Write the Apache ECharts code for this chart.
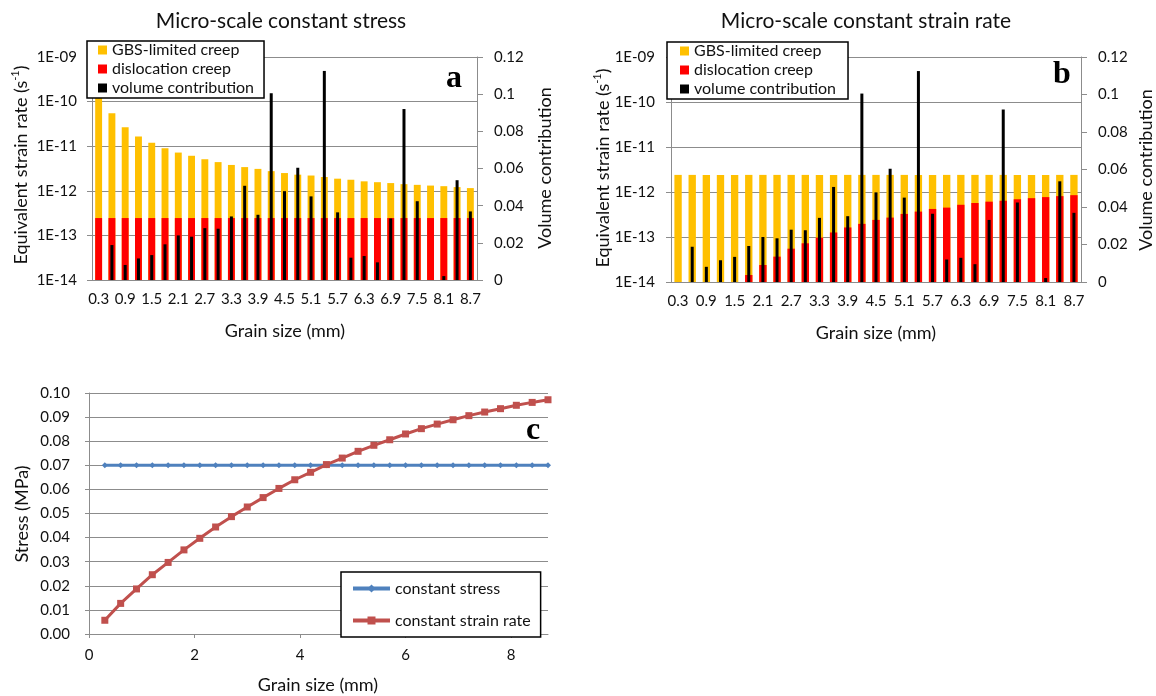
<!DOCTYPE html>
<html><head><meta charset="utf-8">
<script src="https://cdn.jsdelivr.net/npm/echarts@6.0.0/dist/echarts.min.js"></script>
<style>html,body{margin:0;padding:0;background:#fff}#c{width:1156px;height:696px}</style>
</head><body><div id="c"></div>
<script>
// ---- data ----
const grainSizes = [0.3,0.6,0.9,1.2,1.5,1.8,2.1,2.4,2.7,3.0,3.3,3.6,3.9,4.2,4.5,4.8,5.1,5.4,5.7,6.0,6.3,6.6,6.9,7.2,7.5,7.8,8.1,8.4,8.7];
const catLabels = ['0.3','0.6','0.9','1.2','1.5','1.8','2.1','2.4','2.7','3.0','3.3','3.6','3.9','4.2','4.5','4.8','5.1','5.4','5.7','6.0','6.3','6.6','6.9','7.2','7.5','7.8','8.1','8.4','8.7'];

// panel a: micro-scale constant stress (strain rate, s^-1)
const gbsA = [1.2e-10,5.5e-11,2.66e-11,1.66e-11,1.19e-11,9.0e-12,7.2e-12,6.1e-12,5.1e-12,4.4e-12,3.8e-12,3.4e-12,3.1e-12,2.76e-12,2.5e-12,2.3e-12,2.2e-12,2.04e-12,1.87e-12,1.77e-12,1.63e-12,1.56e-12,1.49e-12,1.41e-12,1.36e-12,1.31e-12,1.27e-12,1.21e-12,1.15e-12];
const dislA = [2.45e-13,2.45e-13,2.45e-13,2.45e-13,2.45e-13,2.45e-13,2.45e-13,2.45e-13,2.45e-13,2.45e-13,2.45e-13,2.45e-13,2.45e-13,2.45e-13,2.45e-13,2.45e-13,2.45e-13,2.45e-13,2.45e-13,2.45e-13,2.45e-13,2.45e-13,2.45e-13,2.45e-13,2.45e-13,2.45e-13,2.45e-13,2.45e-13,2.45e-13];

// panel b: micro-scale constant strain rate
const gbsB = [2.4e-12,2.4e-12,2.4e-12,2.4e-12,2.4e-12,2.4e-12,2.4e-12,2.4e-12,2.4e-12,2.4e-12,2.4e-12,2.4e-12,2.4e-12,2.4e-12,2.4e-12,2.4e-12,2.4e-12,2.4e-12,2.4e-12,2.4e-12,2.4e-12,2.4e-12,2.4e-12,2.4e-12,2.4e-12,2.4e-12,2.4e-12,2.4e-12,2.4e-12];
const dislB = [7e-16,1.5e-15,2.8e-15,5e-15,8.5e-15,1.43e-14,2.39e-14,3.66e-14,5.5e-14,7.25e-14,9.7e-14,1.26e-13,1.63e-13,1.96e-13,2.4e-13,2.7e-13,3.26e-13,3.67e-13,4.2e-13,4.5e-13,5.2e-13,5.7e-13,6.1e-13,6.4e-13,6.9e-13,7.3e-13,7.7e-13,8.1e-13,8.5e-13];

// volume contribution (secondary axis, both panels)
const volume = [0,0.0188,0.0081,0.0116,0.0134,0.0192,0.024,0.0233,0.0279,0.0276,0.0342,0.0507,0.0351,0.1005,0.0478,0.0604,0.045,0.1125,0.0364,0.012,0.0129,0.0095,0.0331,0.092,0.0424,0,0.0021,0.0537,0.0369];

// panel c: stress (MPa)
const stressConst = [0.07,0.07,0.07,0.07,0.07,0.07,0.07,0.07,0.07,0.07,0.07,0.07,0.07,0.07,0.07,0.07,0.07,0.07,0.07,0.07,0.07,0.07,0.07,0.07,0.07,0.07,0.07,0.07,0.07];
const stressRate = [0.0057,0.0127,0.0187,0.0246,0.0297,0.0349,0.0397,0.0444,0.0487,0.0527,0.0566,0.0604,0.064,0.0671,0.0703,0.073,0.0758,0.0783,0.0806,0.083,0.0852,0.0871,0.0889,0.0906,0.0921,0.0935,0.0949,0.0961,0.0972];

// ---- styling ----
const FF = 'Lato, "Open Sans", sans-serif';
const TXT = '#111';
const GC = '#8c8c8c';
const YEL = '#FFC000', RED = '#FF0000', BLK = '#000000';
const LOG_MIN = 1e-14, LOG_MAX = 1e-9;

function sciLabel(v){
  const e = Math.round(Math.log10(v));
  return '1E' + (e < 0 ? '-' : '+') + String(Math.abs(e)).padStart(2,'0');
}
const lbl = (m) => ({fontSize:15, fontFamily:FF, color:TXT, margin:m});
const axLine = {show:true, lineStyle:{color:GC, width:1}};

function catAxis(g){
  return {gridIndex:g, type:'category', data:catLabels, boundaryGap:true,
    axisLine:axLine, axisTick:{show:false},
    axisLabel:Object.assign({interval:1}, lbl(12)), splitLine:{show:false}};
}
function hiddenCat(g){
  return {gridIndex:g, type:'category', data:catLabels, show:false};
}
function logAxis(g, m){
  return {gridIndex:g, type:'log', logBase:10, min:LOG_MIN, max:LOG_MAX, position:'left',
    axisLine:axLine, axisTick:{show:true, inside:false, length:5, lineStyle:{color:GC}},
    splitLine:{show:true, lineStyle:{color:GC, width:1}},
    minorTick:{show:false},
    axisLabel:Object.assign({formatter:sciLabel}, lbl(m))};
}
function volAxis(g, m){
  return {gridIndex:g, type:'value', min:0, max:0.12, interval:0.02, position:'right',
    axisLine:axLine, axisTick:{show:true, length:6, lineStyle:{color:GC}},
    splitLine:{show:false}, axisLabel:lbl(m)};
}

const legendCommon = {
  orient:'vertical', icon:'rect', itemWidth:9, itemHeight:9, itemGap:3,
  borderColor:'#000', borderWidth:1.5, backgroundColor:'#fff', z:10,
  selectedMode:false,
  textStyle:{fontSize:16, lineHeight:16, fontFamily:FF, color:TXT},
  data:['GBS-limited creep','dislocation creep','volume contribution']
};

// bars on a log axis, rising from the axis minimum (drawn via the axis scale)
function logBar(name, xi, yi, values, color){
  return {
    name:name, type:'custom', xAxisIndex:xi, yAxisIndex:yi,
    itemStyle:{color:color},
    data: values.map((v,i)=>[i, v]),
    encode:{x:0, y:1},
    renderItem: function(params, api){
      const cat = api.value(0), v = api.value(1);
      const top = api.coord([cat, v]);
      const base = api.coord([cat, LOG_MIN]);
      const bw = api.size([1, 0])[0] * 0.52;
      const rect = echarts.graphic.clipRectByRect(
        {x: top[0] - bw/2, y: top[1], width: bw, height: base[1] - top[1]},
        {x: params.coordSys.x, y: params.coordSys.y, width: params.coordSys.width, height: params.coordSys.height});
      if (!rect || rect.height <= 0) return null;
      return {type:'rect', shape:rect, style:{fill:color}};
    }
  };
}

function barSeries(xi, yi, xh, yh, gbs, disl){
  return [
    logBar('GBS-limited creep', xi, yi, gbs, YEL),
    logBar('dislocation creep', xi, yi, disl, RED),
    {name:'volume contribution', type:'bar', xAxisIndex:xh, yAxisIndex:yh, data:volume,
      barWidth:3, itemStyle:{color:BLK}, z:3}
  ];
}

function title(text, x, y, size){
  return {type:'text', x:x, y:y, z:20, style:{text:text, fontSize:size, fontFamily:FF, fill:TXT, align:'center', verticalAlign:'middle'}};
}
function vTitle(text, x, y, size, rich){
  const st = {text:text, fontSize:size, fontFamily:FF, fill:TXT, align:'center', verticalAlign:'middle'};
  if (rich) st.rich = rich;
  return {type:'text', x:x, y:y, rotation:Math.PI/2, z:20, style:st};
}
function panelLabel(text, x, y){
  return {type:'text', x:x, y:y, z:20, style:{text:text, fontSize:32, fontWeight:'bold', fontFamily:'"Liberation Serif", "DejaVu Serif", serif', fill:'#000', align:'center', verticalAlign:'middle'}};
}
const supRich = {
  n:{fontSize:18, fontFamily:FF, color:TXT, lineHeight:22},
  s:{fontSize:11, fontFamily:FF, color:TXT, lineHeight:22, verticalAlign:'top'}
};
const eqTitle = '{n|Equivalent strain rate (s}{s|-1}{n|)}';

const option = {
  animation:false,
  backgroundColor:'#fff',
  grid:[
    {left:92, top:57, width:385, height:223},
    {left:671, top:57, width:410, height:225},
    {left:89, top:393, width:459, height:241}
  ],
  xAxis:[
    catAxis(0), hiddenCat(0), catAxis(1), hiddenCat(1),
    {gridIndex:2, type:'value', min:0, max:8.7, interval:2,
      axisLine:axLine, axisTick:{show:true, length:4, lineStyle:{color:GC}},
      splitLine:{show:false},
      axisLabel:Object.assign({showMaxLabel:false}, lbl(14))}
  ],
  yAxis:[
    logAxis(0, 15), volAxis(0, 17), logAxis(1, 16), volAxis(1, 17),
    {gridIndex:2, type:'value', min:0, max:0.1, interval:0.01,
      axisLine:axLine, axisTick:{show:true, length:4, lineStyle:{color:GC}},
      splitLine:{show:true, lineStyle:{color:GC, width:1}},
      axisLabel:Object.assign({formatter:(v)=>v.toFixed(2)}, lbl(19))}
  ],
  legend:[
    Object.assign({}, legendCommon, {left:87, top:41, padding:[1,10,2,11]}),
    Object.assign({}, legendCommon, {left:667, top:42, padding:[1,12,2,13]}),
    {left:341, top:572, orient:'vertical', itemWidth:37, itemHeight:10, itemGap:13,
      padding:[7,10,7,10], borderColor:'#000', borderWidth:1.5, backgroundColor:'#fff', z:10,
      selectedMode:false,
      lineStyle:{width:4},
      textStyle:{fontSize:16, lineHeight:19, fontFamily:FF, color:TXT},
      data:['constant stress','constant strain rate']}
  ],
  series:[].concat(
    barSeries(0, 0, 1, 1, gbsA, dislA),
    barSeries(2, 2, 3, 3, gbsB, dislB),
    [
      {name:'constant stress', type:'line', xAxisIndex:4, yAxisIndex:4,
        data:grainSizes.map((g,i)=>[g, stressConst[i]]),
        symbol:'diamond', symbolSize:6, showAllSymbol:true,
        lineStyle:{color:'#4F81BD', width:3}, itemStyle:{color:'#4F81BD'}},
      {name:'constant strain rate', type:'line', xAxisIndex:4, yAxisIndex:4,
        data:grainSizes.map((g,i)=>[g, stressRate[i]]),
        symbol:'rect', symbolSize:7, showAllSymbol:true,
        lineStyle:{color:'#C0504D', width:3}, itemStyle:{color:'#C0504D'}}
    ]
  ),
  graphic:[
    title('Micro-scale constant stress', 281, 21, 21),
    title('Micro-scale constant strain rate', 866, 21, 21),
    title('Grain size (mm)', 285, 331, 18),
    title('Grain size (mm)', 876, 333, 18),
    title('Grain size (mm)', 318, 685, 18),
    vTitle(eqTitle, 21, 165, 18, supRich),
    vTitle(eqTitle, 603, 168, 18, supRich),
    vTitle('Volume contribution', 545, 168, 18),
    vTitle('Volume contribution', 1146, 170, 18),
    vTitle('Stress (MPa)', 22, 514, 18),
    panelLabel('a', 454, 79),
    panelLabel('b', 1062, 75),
    panelLabel('c', 533, 431)
  ]
};

const chart = echarts.init(document.getElementById('c'), null, {renderer:'canvas'});
chart.setOption(option);
</script>
</body></html>
